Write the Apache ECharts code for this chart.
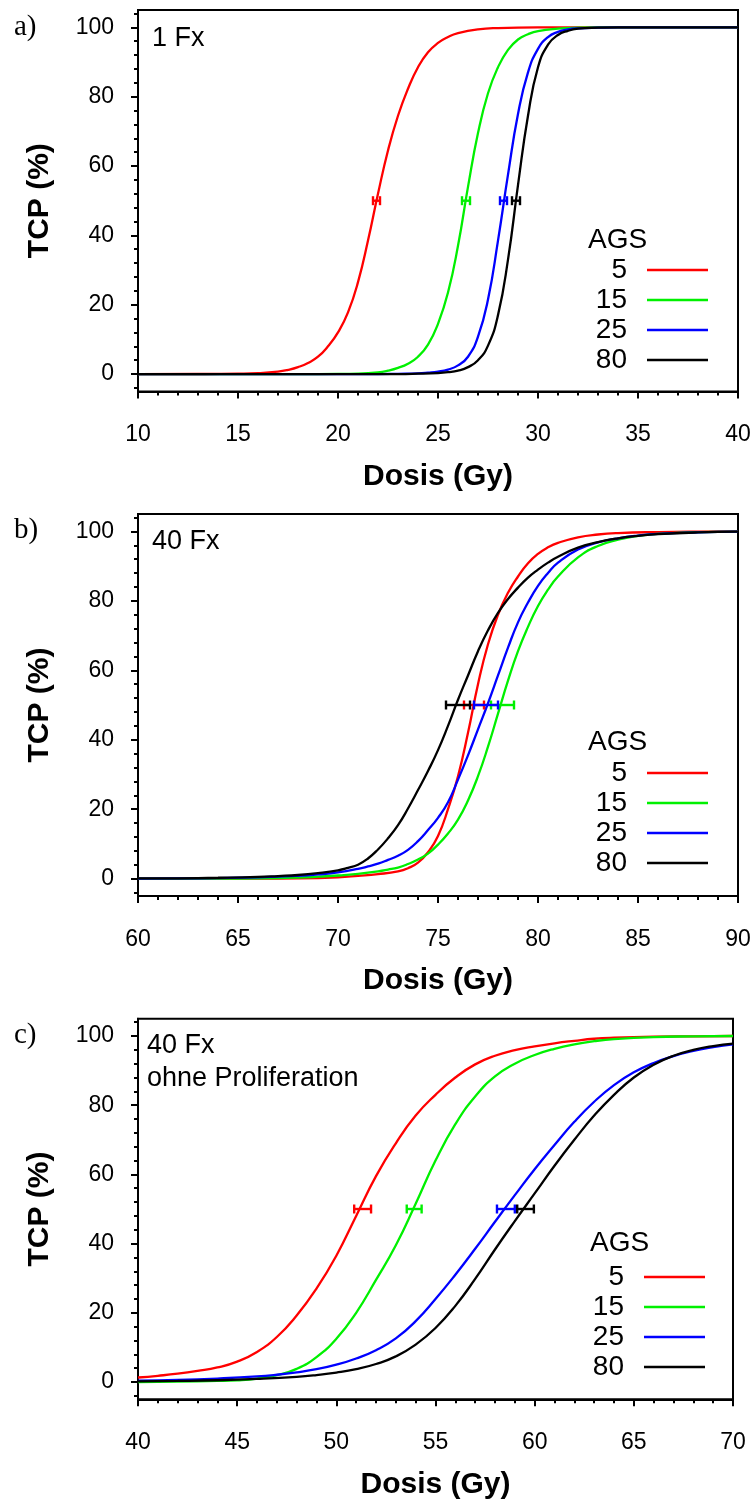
<!DOCTYPE html>
<html><head><meta charset="utf-8">
<script src="https://cdn.jsdelivr.net/npm/echarts@6/dist/echarts.min.js"></script>
<style>html,body{margin:0;padding:0;background:#fff}#c{width:755px;height:1499px}</style>
</head><body><div id="c"></div>
<script>
// ---------- data ----------
const agsNames = ['5', '15', '25', '80'];
const agsColors = ['#ff0000', '#00f000', '#0000ff', '#000000'];
const yTicks = [0, 20, 40, 60, 80, 100];
const yMinorTicks = [-4, 4, 8, 12, 16, 24, 28, 32, 36, 44, 48, 52, 56, 64, 68, 72, 76, 84, 88, 92, 96, 104];
const tcpAt = 50;

// panel a) 1 Fx  [Dose (Gy), TCP (%)]
const a_ags5 = [[10,0],[13,0.02],[15,0.1],[16,0.25],[17,0.7],[17.5,1.2],[18,2.0],[18.5,3.2],[19,5.0],[19.5,8.0],[20,12.0],[20.5,17.8],[21,26.5],[21.5,38.5],[22,52],[22.5,64.5],[23,74.5],[23.5,82.3],[24,88.5],[24.5,92.8],[25,95.5],[25.5,97.2],[26,98.3],[27,99.4],[28,99.8],[30,100],[40,100]];
const a_ags15 = [[10,0],[18,0],[20,0.03],[21,0.12],[22,0.5],[22.5,1.0],[23,1.8],[23.5,3.0],[24,5.0],[24.5,8.5],[25,14.5],[25.5,23.5],[26,37],[26.5,54],[27,69.5],[27.5,81],[28,88.5],[28.5,93.5],[29,96.5],[29.5,98],[30,98.9],[31,99.6],[32,99.9],[33,100],[40,100]];
const a_ags25 = [[10,0],[22,0],[23,0.08],[24,0.2],[24.5,0.4],[25,0.7],[25.5,1.3],[26,2.5],[26.5,5.0],[27,10.8],[27.5,21.5],[28,38.5],[28.5,57.5],[29,75],[29.5,87],[30,93.8],[30.5,97.2],[31,98.7],[31.5,99.4],[32,99.7],[33,99.9],[34,100],[40,100]];
const a_ags80 = [[10,0],[23,0],[24,0.1],[25,0.3],[25.5,0.55],[26,1.0],[26.5,2.0],[27,4.0],[27.5,8.2],[28,17],[28.5,33],[29,54.5],[29.5,74.5],[30,88.5],[30.5,95],[31,97.8],[31.5,99],[32,99.6],[33,99.9],[34,100],[40,100]];
const a_err = [[21.75,22.1],[26.2,26.6],[28.1,28.45],[28.7,29.1]];

// panel b) 40 Fx
const b_ags5 = [[60,0],[64,0.01],[66,0.03],[68,0.1],[70,0.4],[71,0.8],[72,1.3],[73,2.1],[73.5,3.0],[74,4.6],[74.5,7.6],[75,12.3],[75.5,20],[76,29.5],[76.5,42],[77,56],[77.5,67.5],[78,76],[78.5,82.3],[79,87],[79.5,90.8],[80,93.5],[80.5,95.4],[81,96.7],[82,98.3],[83,99.1],[84,99.5],[86,99.8],[88,99.95],[90,100]];
const b_ags15 = [[60,0],[64,0.02],[66,0.08],[68,0.3],[69,0.55],[70,0.9],[71,1.4],[72,2.1],[72.5,2.6],[73,3.2],[73.5,4.2],[74,5.5],[74.5,7.2],[75,9.8],[75.5,13.0],[76,17.0],[76.5,22.5],[77,29.5],[77.5,38],[78,47.5],[78.5,57],[79,65.5],[79.5,72.5],[80,78.5],[80.5,83.2],[81,87],[82,92.5],[83,95.8],[84,97.6],[85,98.7],[86,99.3],[88,99.8],[90,99.95]];
const b_ags25 = [[60,0],[62,0.05],[64,0.15],[66,0.35],[68,0.8],[69,1.2],[70,1.8],[71,2.8],[71.5,3.5],[72,4.3],[72.5,5.4],[73,6.6],[73.5,8.3],[74,10.8],[74.5,14],[75,17.5],[75.5,22],[76,28.5],[76.5,35.5],[77,43],[77.5,50.5],[78,58.5],[78.5,66.5],[79,73.8],[79.5,79.5],[80,84.3],[80.5,88],[81,91],[82,94.8],[83,96.8],[84,98],[85,98.8],[86,99.3],[88,99.7],[90,99.9]];
const b_ags80 = [[60,0.05],[62,0.1],[64,0.25],[66,0.5],[67,0.75],[68,1.05],[69,1.6],[70,2.4],[70.5,3.1],[71,4.0],[71.5,5.8],[72,8.4],[72.5,11.6],[73,15.4],[73.5,20.2],[74,25.5],[74.5,31],[75,37],[75.5,44],[76,51.5],[76.5,58.5],[77,65.5],[77.5,71.5],[78,76.5],[78.5,80.5],[79,83.8],[79.5,86.7],[80,89],[80.5,91],[81,92.7],[82,95.3],[83,96.9],[84,98],[85,98.7],[86,99.2],[88,99.7],[90,99.9]];
const b_err = [[76.3,77.3],[77.65,78.8],[76.8,78.0],[75.4,76.6]];

// panel c) 40 Fx ohne Proliferation
const c_ags5 = [[40,1.3],[41,1.8],[42,2.4],[43,3.2],[44,4.2],[45,5.9],[46,8.7],[47,13.0],[48,19.2],[49,27],[50,36.5],[51,48],[52,59.5],[53,69],[54,77],[55,83],[56,88],[57,91.8],[58,94.3],[59,95.9],[60,97],[61,97.9],[62,98.6],[63,99.2],[64,99.5],[66,99.8],[68,99.9],[70,100]];
const c_ags15 = [[40,0],[42,0.1],[44,0.3],[45,0.5],[46,1.0],[47,2.0],[48,3.8],[49,7.2],[50,12.5],[51,20],[52,29.5],[53,39.5],[54,51.5],[55,64],[56,74.5],[57,82.5],[58,88.3],[59,92],[60,94.5],[61,96.3],[62,97.6],[63,98.5],[64,99.1],[66,99.7],[68,99.9],[70,100]];
const c_ags25 = [[40,0.4],[42,0.6],[44,1.0],[46,1.6],[47,2.1],[48,2.8],[49,3.7],[50,5.0],[51,6.8],[52,9.2],[53,12.6],[54,17.6],[55,24],[56,31],[57,38.5],[58,46.3],[59,54],[60,61.5],[61,68.5],[62,75.2],[63,81],[64,85.8],[65,89.5],[66,92.2],[67,94.2],[68,95.7],[69,96.8],[70,97.6]];
const c_ags80 = [[40,0.2],[42,0.3],[44,0.5],[46,0.9],[48,1.5],[49,2.0],[50,2.7],[51,3.7],[52,5.2],[53,7.4],[54,10.8],[55,15.6],[56,22],[57,29.8],[58,38.3],[59,46.5],[60,54.5],[61,62.5],[62,70],[63,77],[64,83],[65,88],[66,91.7],[67,94.3],[68,96],[69,97.1],[70,97.8]];
const c_err = [[50.9,51.75],[53.55,54.3],[58.1,59.0],[59.12,59.96]];

const xRanges = [[10, 40], [60, 90], [40, 70]];
const panelLetters = ['a)', 'b)', 'c)'];
const panelNotes = [['1 Fx'], ['40 Fx'], ['40 Fx', 'ohne Proliferation']];
const xTitle = 'Dosis (Gy)';
const yTitle = 'TCP (%)';
const legendTitle = 'AGS';

// ---------- layout ----------
const FONT = '"Liberation Sans", Arial, Helvetica, sans-serif';
const grids = [
  {left: 138, top: 10, width: 600, height: 381.4},
  {left: 138, top: 514, width: 600, height: 382},
  {left: 138, top: 1018.7, width: 595, height: 380.6}
];
const legendPos = [{right: 47, top: 256}, {right: 47, top: 759}, {right: 50, top: 1263}];
const agsTitlePos = [[588, 240], [588, 742], [590, 1243]];
const letterPos = [[14, 27], [14, 530], [14, 1035]];
const notePos = [[152, 39], [152, 542], [147, 1046]];

const panelCurves = [
  [a_ags5, a_ags15, a_ags25, a_ags80],
  [b_ags5, b_ags15, b_ags25, b_ags80],
  [c_ags5, c_ags15, c_ags25, c_ags80]
];
const panelErr = [a_err, b_err, c_err];

function renderErr(params, api) {
  const lo = api.coord([api.value(0), api.value(2)]);
  const hi = api.coord([api.value(1), api.value(2)]);
  const h = 4.5;
  const st = {stroke: api.visual('color'), lineWidth: 2.4};
  return {type: 'group', children: [
    {type: 'line', shape: {x1: lo[0], y1: lo[1], x2: hi[0], y2: hi[1]}, style: st},
    {type: 'line', shape: {x1: lo[0], y1: lo[1] - h, x2: lo[0], y2: lo[1] + h}, style: st},
    {type: 'line', shape: {x1: hi[0], y1: hi[1] - h, x2: hi[0], y2: hi[1] + h}, style: st}
  ]};
}

const option = {
  backgroundColor: '#fff',
  animation: false,
  grid: grids.map(g => Object.assign({show: true, borderColor: '#000', borderWidth: 2, backgroundColor: 'transparent', outerBoundsMode: 'none', containLabel: false}, g)),
  xAxis: xRanges.map((r, i) => ({
    type: 'value', gridIndex: i, min: r[0], max: r[1], interval: 5,
    name: xTitle, nameLocation: 'middle', nameGap: 70,
    nameTextStyle: {fontSize: 30, fontWeight: 'bold', fontFamily: FONT, color: '#000'},
    axisLine: {show: true, onZero: false, lineStyle: {color: '#000', width: 2}},
    axisTick: {show: true, length: 7, lineStyle: {color: '#000', width: 2}},
    minorTick: {show: true, splitNumber: 5, length: 4, lineStyle: {color: '#000', width: 2}},
    axisLabel: {fontSize: 23, fontFamily: FONT, color: '#000', margin: 32},
    splitLine: {show: false}
  })),
  yAxis: [],
  legend: legendPos.map(p => ({
    orient: 'vertical', align: 'right', right: p.right, top: p.top,
    itemWidth: 61, itemHeight: 2.5, itemGap: 2, icon: 'rect', padding: 0,
    selectedMode: false, data: agsNames,
    textStyle: {fontSize: 28, lineHeight: 28, fontFamily: FONT, color: '#000', padding: [0, 15, 0, 0]}
  })),
  graphic: [],
  series: []
};

for (let i = 0; i < 3; i++) {
  option.yAxis.push({
    type: 'value', gridIndex: i, min: -5, max: 105, position: 'left',
    name: yTitle, nameLocation: 'middle', nameRotate: 90, nameGap: 83,
    nameTextStyle: {fontSize: 30, fontWeight: 'bold', fontFamily: FONT, color: '#000'},
    axisLine: {show: true, onZero: false, lineStyle: {color: '#000', width: 2}},
    axisTick: {show: true, length: 7, customValues: yTicks, lineStyle: {color: '#000', width: 2}},
    axisLabel: {fontSize: 23, fontFamily: FONT, color: '#000', margin: 24, customValues: yTicks},
    splitLine: {show: false}
  });
  option.yAxis.push({
    type: 'value', gridIndex: i, min: -5, max: 105, position: 'left', offset: 0,
    axisLine: {show: false},
    axisTick: {show: true, length: 4, customValues: yMinorTicks, lineStyle: {color: '#000', width: 2}},
    axisLabel: {show: false},
    splitLine: {show: false}
  });
  panelCurves[i].forEach((d, k) => {
    option.series.push({
      type: 'line', name: agsNames[k], xAxisIndex: i, yAxisIndex: 2 * i,
      data: d, showSymbol: false, symbol: 'none', smooth: 0.5,
      color: agsColors[k], lineStyle: {color: agsColors[k], width: 2.3}, z: 2 + k
    });
  });
  panelErr[i].forEach((e, k) => {
    option.series.push({
      type: 'custom', name: 'err' + agsNames[k], xAxisIndex: i, yAxisIndex: 2 * i,
      renderItem: renderErr, encode: {x: [0, 1], y: 2},
      data: [[e[0], e[1], tcpAt]], itemStyle: {color: agsColors[k]}, z: 10 + k
    });
  });
  option.graphic.push({
    type: 'text', x: letterPos[i][0], y: letterPos[i][1], silent: true,
    style: {text: panelLetters[i], fontSize: 29, fontFamily: '"Liberation Serif", "Times New Roman", serif', fill: '#000', align: 'left', verticalAlign: 'middle'}
  });
  panelNotes[i].forEach((t, j) => {
    option.graphic.push({
      type: 'text', x: notePos[i][0], y: notePos[i][1] + j * 32.5, silent: true,
      style: {text: t, fontSize: 27, fontFamily: FONT, fill: '#000', align: 'left', verticalAlign: 'middle'}
    });
  });
  option.graphic.push({
    type: 'text', x: agsTitlePos[i][0], y: agsTitlePos[i][1], silent: true,
    style: {text: legendTitle, fontSize: 28, fontFamily: FONT, fill: '#000', align: 'left', verticalAlign: 'middle'}
  });
}

const chart = echarts.init(document.getElementById('c'), null, {renderer: 'canvas'});
chart.setOption(option);
</script>
</body></html>
